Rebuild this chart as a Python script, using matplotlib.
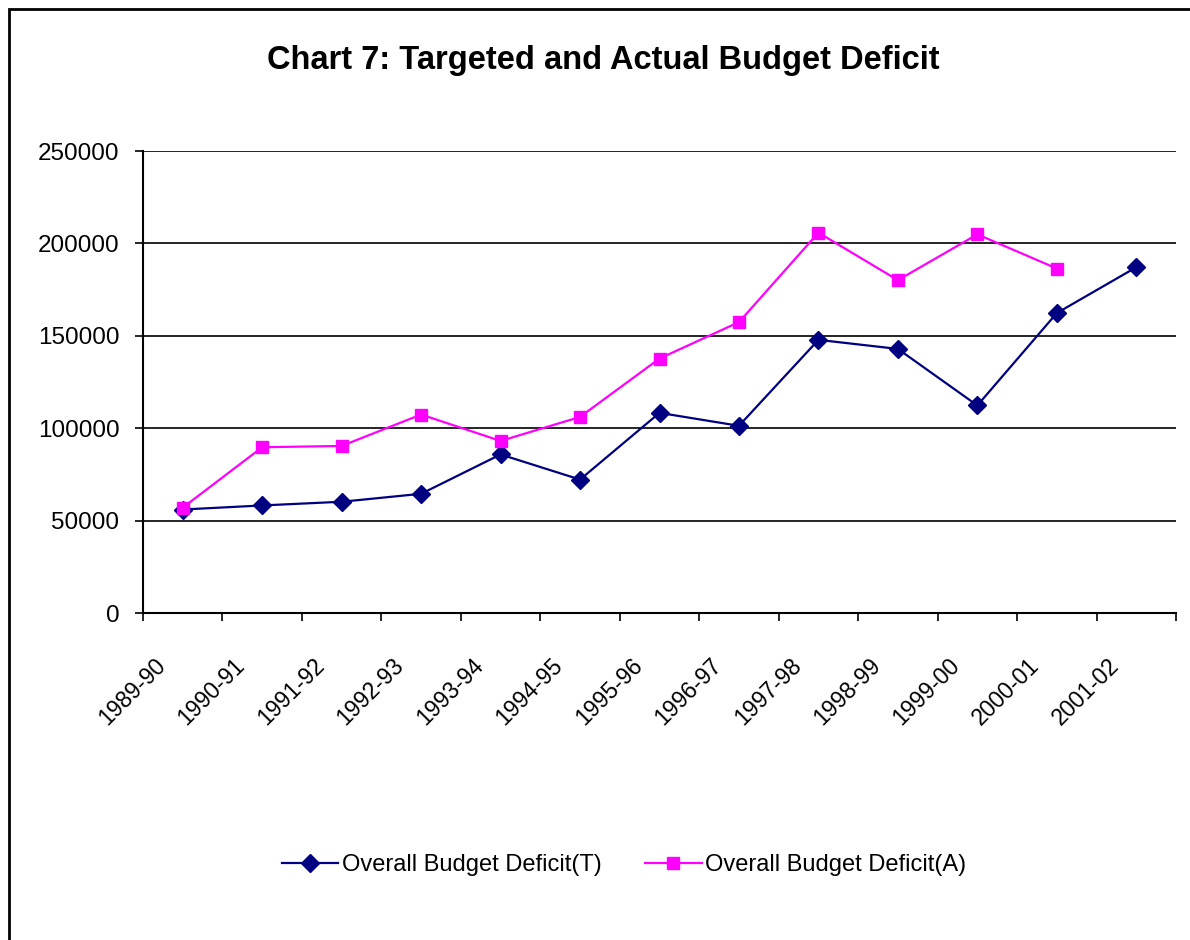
import numpy as np
import matplotlib.pyplot as plt
import matplotlib.transforms as mtransforms
from matplotlib.patches import Rectangle

plt.rcParams['font.family'] = ['Liberation Sans', 'DejaVu Sans']

years = ["1989-90", "1990-91", "1991-92", "1992-93", "1993-94", "1994-95", "1995-96",
         "1996-97", "1997-98", "1998-99", "1999-00", "2000-01", "2001-02"]
targeted = [56000, 58200, 60200, 64500, 85800, 72200, 108300,
            101300, 147800, 142900, 112300, 162300, 187100]
actual = [57000, 89700, 90400, 107400, 93100, 106100, 137700,
          157400, 205800, 180100, 204900, 186400, np.nan]

W, H = 1190, 940
fig = plt.figure(figsize=(W / 100, H / 100), dpi=100)

# chart border (only left/top visible in the reference)
fig.patches.append(Rectangle((9 / W, -0.01), 1.1, 1 - 9 / H + 0.01, transform=fig.transFigure,
                             fill=False, edgecolor="black", linewidth=2))

ax = fig.add_axes([143 / W, 1 - 613 / H, (1176 - 143) / W, (613 - 151) / H])
x = np.arange(len(years))

ax.plot(x, targeted, color="#000080", marker="D", markersize=9, linewidth=1.6,
        label="Overall Budget Deficit(T)", zorder=3)
ax.plot(x, actual, color="#FF00FF", marker="s", markersize=9, linewidth=1.6,
        markeredgecolor="#FF00FF", label="Overall Budget Deficit(A)", zorder=3)

ax.set_xlim(-0.5, len(years) - 0.5)
ax.set_ylim(0, 250000)
ax.set_yticks(np.arange(0, 250001, 50000))
ax.set_yticklabels([str(v) for v in range(0, 250001, 50000)], fontsize=17.5)
ax.yaxis.grid(True, color="black", linewidth=1.2)
ax.set_axisbelow(True)

ax.set_xticks(x)
ax.set_xticklabels(years, fontsize=16.5, rotation=45, ha="right", va="center",
                   rotation_mode="anchor")
ax.set_xticks(np.arange(-0.5, len(years)), minor=True)
ax.tick_params(axis="x", which="major", length=0, pad=0)
ax.tick_params(axis="x", which="minor", length=6, width=1.2, direction="out")
ax.tick_params(axis="y", length=6, width=1.2, direction="out", pad=11)

offset = mtransforms.ScaledTranslation(-15 / 72, -35 / 72, fig.dpi_scale_trans)
for lab in ax.get_xticklabels():
    lab.set_transform(lab.get_transform() + offset)

for side in ["top", "right"]:
    ax.spines[side].set_visible(False)
for side in ["left", "bottom"]:
    ax.spines[side].set_linewidth(1.5)

fig.text(603 / W, 1 - 61 / H, "Chart 7: Targeted and Actual Budget Deficit",
         ha="center", va="center", fontsize=23.5, fontweight="bold")

fig.legend(loc="center", bbox_to_anchor=(624 / W, 1 - 865 / H), ncol=2, frameon=False,
           fontsize=17, handlelength=2.4, columnspacing=1.85, handletextpad=0.15)

fig.savefig("out.png", dpi=100)
